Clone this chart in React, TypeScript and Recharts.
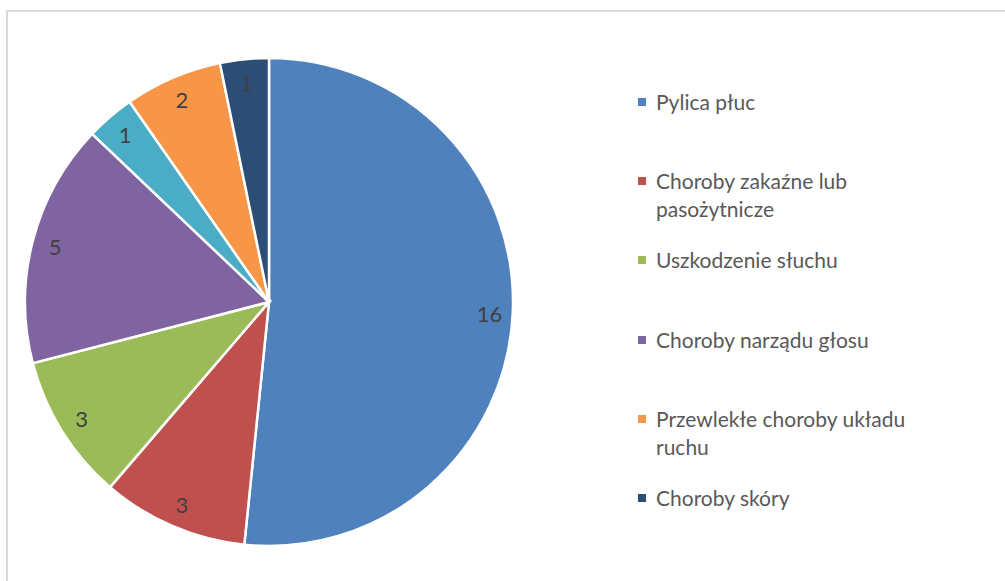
import React from "react";
import { PieChart, Pie, Cell, Legend } from "recharts";

const categories = [
  "Pylica płuc",
  "Choroby zakaźne lub pasożytnicze",
  "Uszkodzenie słuchu",
  "Choroby narządu głosu",
  "",
  "Przewlekłe choroby układu ruchu",
  "Choroby skóry",
];
const values = [16, 3, 3, 5, 1, 2, 1];
const colors = ["#4F81BD", "#C0504D", "#9BBB59", "#8064A2", "#4BACC6", "#F79646", "#2C4D75"];

const data = categories.map((name, i) => ({ name, value: values[i], color: colors[i] }));

const RADIAN = Math.PI / 180;
const FONT = "Lato, 'Open Sans', sans-serif";

const renderLabel = (props: any) => {
  const { cx, cy, midAngle, outerRadius, value } = props;
  const r = outerRadius * 0.905;
  const x = cx + r * Math.cos(-midAngle * RADIAN);
  const y = cy + r * Math.sin(-midAngle * RADIAN);
  return (
    <text
      x={x}
      y={y}
      fill="#404040"
      textAnchor="middle"
      dominantBaseline="central"
      fontSize={22}
      fontFamily={FONT}
    >
      {value}
    </text>
  );
};

const LegendContent = () => {
  const items = data.filter((d) => d.name !== "");
  return (
    <div style={{ position: "relative", width: 320, height: 480 }}>
      {items.map((d, i) => (
        <div
          key={d.name}
          style={{ position: "absolute", left: 0, top: i * 79.3, width: 320 }}
        >
          <div
            style={{
              position: "absolute",
              left: 0,
              top: 10,
              width: 8,
              height: 8,
              background: d.color,
            }}
          />
          <div
            style={{
              position: "absolute",
              left: 18,
              top: 0,
              width: 280,
              fontFamily: FONT,
              fontSize: 21,
              lineHeight: "28px",
              color: "#595959",
            }}
          >
            {d.name}
          </div>
        </div>
      ))}
    </div>
  );
};

export default function App() {
  return (
    <div
      style={{
        position: "absolute",
        left: 0,
        top: 0,
        width: 1005,
        height: 581,
        overflow: "hidden",
        background: "#fff",
      }}
    >
      <div
        style={{
          position: "absolute",
          left: 6,
          top: 10,
          width: 1100,
          height: 700,
          border: "2px solid #d9d9d9",
        }}
      />
      <div style={{ position: "absolute", left: 0, top: 0 }}>
        <PieChart width={1005} height={581} margin={{ top: 0, right: 0, bottom: 0, left: 0 }}>
          <Pie
            data={data}
            dataKey="value"
            nameKey="name"
            cx={269}
            cy={302}
            outerRadius={244}
            startAngle={90}
            endAngle={-270}
            stroke="#ffffff"
            strokeWidth={2.5}
            label={renderLabel}
            labelLine={false}
            isAnimationActive={false}
          >
            {data.map((d) => (
              <Cell key={d.color} fill={d.color} />
            ))}
          </Pie>
          <Legend
            content={<LegendContent />}
            wrapperStyle={{ position: "absolute", left: 638, top: 87.7, width: 320 }}
          />
        </PieChart>
      </div>
    </div>
  );
}
